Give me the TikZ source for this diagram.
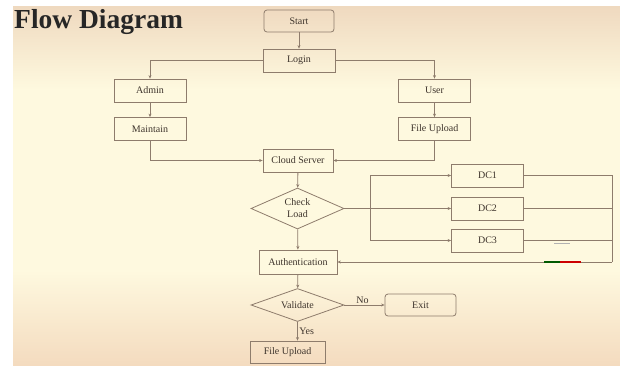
\documentclass[tikz,border=0pt]{standalone}
\usepackage{fontspec}
\setmainfont{Liberation Serif}
\usetikzlibrary{shapes.geometric, arrows.meta}

\definecolor{boxline}{HTML}{8E7C6C}
\definecolor{ink}{HTML}{3E342C}
\definecolor{paper}{HTML}{FEF9DF}
\definecolor{peachtop}{HTML}{EFD9BF}
\definecolor{peachbot}{HTML}{F4DBBF}

\tikzset{
    box/.style = {draw = boxline, line width = 0.8pt, minimum width = 72pt, minimum height = 23pt,
                  inner sep = 0pt, text = ink, font = \fontsize{10}{11}\selectfont},
    rbox/.style = {box, rounded corners = 3pt},
    choice/.style = {box, diamond, aspect = 2.3, minimum width = 93pt, align = center},
    flow/.style = {draw = boxline, line width = 0.8pt, -{Stealth[length = 3.5pt, width = 3pt]}},
    plain/.style = {draw = boxline, line width = 0.8pt},
    lbl/.style = {text = ink, font = \fontsize{10}{11}\selectfont, inner sep = 1.5pt}
}

\begin{document}
\begin{tikzpicture}[x = 1pt, y = -1pt]
    \useasboundingbox (0, 0) rectangle (620, 365);
    \fill[white] (0, 0) rectangle (620, 365);
    \shade[top color = peachtop, bottom color = paper] (13, 6) rectangle (620, 90);
    \fill[paper] (13, 89.5) rectangle (620, 270.5);
    \shade[top color = paper, bottom color = peachbot] (13, 270) rectangle (620, 365);

    % title
    \node [anchor = base west, text = black!85, inner sep = 0pt, font = \fontsize{27.5}{30}\bfseries] (title) at (14, 28) {Flow Diagram};

    % boxes
    \node [rbox, minimum width = 70pt, minimum height = 22pt] (start) at (299, 21) {Start};
    \node [box] (login) at (299, 60.5) {Login};
    \node [box] (admin) at (150, 90.5) {Admin};
    \node [box] (maintain) at (150, 129) {Maintain};
    \node [box] (user) at (434.5, 90.5) {User};
    \node [box] (upload) at (434.5, 129) {File Upload};
    \node [box, minimum width = 70pt] (cloud) at (298, 160.5) {Cloud Server};
    \node [choice, minimum height = 41pt] (check) at (297.5, 208.5) {Check\\[1pt]Load};
    \node [box] (dc1) at (487.5, 175.5) {DC1};
    \node [box] (dc2) at (487.5, 208.5) {DC2};
    \node [box] (dc3) at (487.5, 240.5) {DC3};
    \node [box, minimum width = 78pt, minimum height = 24pt] (auth) at (298, 262) {Authentication};
    \node [choice, minimum height = 33pt] (validate) at (297.5, 305) {Validate};
    \node [rbox, minimum width = 71pt, minimum height = 22pt] (exit) at (420.5, 305) {Exit};
    \node [box, minimum width = 75pt, minimum height = 22pt] (final) at (287.5, 352) {File Upload};

    \coordinate (split) at (370, 208.5);
    \coordinate (back) at (612, 262);

    % connectors
    \draw[flow] (start) -- (login);
    \draw[flow] (login.west) -| (admin.north);
    \draw[flow] (login.east) -| (user.north);
    \draw[flow] (admin) -- (maintain);
    \draw[flow] (user) -- (upload);
    \draw[flow] (maintain.south) |- (cloud.west);
    \draw[flow] (upload.south) |- (cloud.east);
    \draw[flow] (cloud) -- (check);
    \draw[flow] (check.east) -- (dc2.west);
    \draw[flow] (split) |- (dc1.west);
    \draw[flow] (split) |- (dc3.west);
    \draw[plain] (dc1.east) -| (back);
    \draw[plain] (dc2.east) -- (dc2.east -| back);
    \draw[plain] (dc3.east) -- (dc3.east -| back);
    \draw[flow] (back) -- (auth.east);
    \draw[flow] (check) -- (auth);
    \draw[flow] (auth) -- (validate);
    \draw[flow] (validate.east) -- node [lbl, above, pos = 0.45] (no) {No} (exit.west);
    \draw[flow] (validate.south) -- node [lbl, right] (yes) {Yes} (validate.south |- final.north);

    % stray marks
    \draw[gray!60, line width = 1pt] (554, 243) -- (570, 243);
    \draw[green!35!black, line width = 1.2pt] (544, 262) -- (560, 262);
    \draw[red!80!black, line width = 1.2pt] (560, 262) -- (581, 262);
\end{tikzpicture}
\end{document}
